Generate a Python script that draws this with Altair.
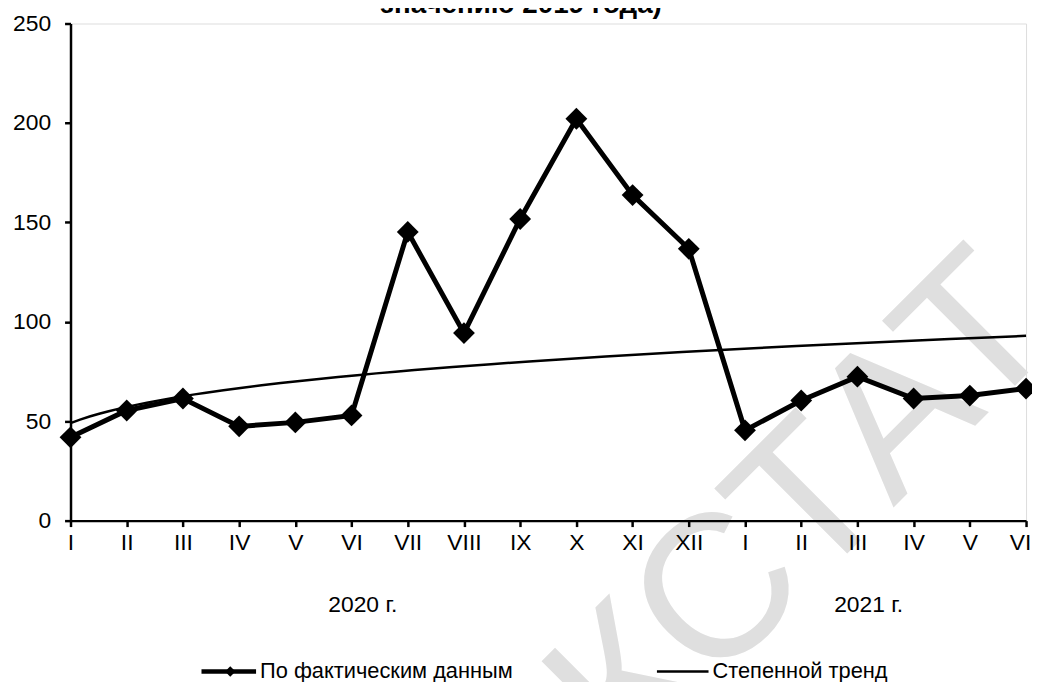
import json
import altair as alt
import pandas as pd

# ---- data ----
month_labels = ["I", "II", "III", "IV", "V", "VI", "VII", "VIII", "IX", "X", "XI", "XII",
                "I", "II", "III", "IV", "V", "VI"]
month_index = list(range(1, 19))
fact_values = [41.9, 55.4, 61.4, 47.4, 49.4, 52.9, 145.2, 94.3, 151.7, 202.1, 163.7, 136.7,
               45.4, 60.4, 72.4, 61.4, 62.9, 66.4]
year_labels = ["2020 г.", "2021 г."]
year_first = [1, 13]
year_last = [12, 18]
series_names = ["По фактическим данным", "Степенной тренд"]
title_line = "значению 2019 года)"
watermark = "КСТАТ"

FONT = "Liberation Sans"
FS = 23

df = pd.DataFrame({"x": month_index, "y": fact_values, "series": series_names[0]})
years = pd.DataFrame({"label": year_labels, "a": year_first, "b": year_last})
legend_df = pd.DataFrame({"name": series_names})

label_expr = json.dumps(month_labels, ensure_ascii=False) + "[datum.value - 1]"

x_enc = alt.X("x:Q", scale=alt.Scale(domain=[1, 18], nice=False, zero=False),
              axis=alt.Axis(values=month_index, labelExpr=label_expr, title=None,
                            grid=False, domainColor="black", domainWidth=2.5,
                            tickColor="black", tickWidth=2.5, tickSize=6,
                            labelFont=FONT, labelFontSize=FS, labelColor="black",
                            labelPadding=5, labelFlush=False, zindex=1,
                            labelOffset={"condition": {"test": "datum.value == 18", "value": -6},
                                         "value": 0}))
y_enc = alt.Y("y:Q", scale=alt.Scale(domain=[0, 250], nice=False),
              axis=alt.Axis(values=[0, 50, 100, 150, 200, 250], title=None, grid=False,
                            domainColor="black", domainWidth=2.5,
                            tickColor="black", tickWidth=2.5, tickSize=6,
                            labelFont=FONT, labelFontSize=FS, labelColor="black",
                            labelPadding=14, zindex=1))

base = alt.Chart(df)

fact_line = base.mark_line(color="black", strokeWidth=5).encode(x=x_enc, y=y_enc)
fact_pts = base.mark_point(shape="diamond", filled=True, color="black", size=484,
                           opacity=1).encode(x="x:Q", y="y:Q")

trend = base.transform_regression("x", "y", method="pow", extent=[1, 18]).mark_line(
    color="black", strokeWidth=2.5).encode(x="x:Q", y="y:Q")

# ---- legend (drawn below the plot) ----
leg = alt.Chart(legend_df)
LY = 653
LFS = 22
leg_fact_line = leg.transform_filter(alt.datum.name == series_names[0]).mark_rule(
    color="black", strokeWidth=4.5).encode(x=alt.value(132), x2=alt.value(187), y=alt.value(LY))
leg_fact_pt = leg.transform_filter(alt.datum.name == series_names[0]).mark_point(
    shape="diamond", filled=True, color="black", size=110, opacity=1).encode(
    x=alt.value(161), y=alt.value(LY))
leg_fact_txt = leg.transform_filter(alt.datum.name == series_names[0]).mark_text(
    font=FONT, fontSize=LFS, color="black", align="left", baseline="middle").encode(
    x=alt.value(191), y=alt.value(LY), text="name:N")
leg_tr_line = leg.transform_filter(alt.datum.name == series_names[1]).mark_rule(
    color="black", strokeWidth=2.5).encode(x=alt.value(591), x2=alt.value(643), y=alt.value(LY))
leg_tr_txt = leg.transform_filter(alt.datum.name == series_names[1]).mark_text(
    font=FONT, fontSize=LFS, color="black", align="left", baseline="middle").encode(
    x=alt.value(647), y=alt.value(LY), text="name:N")

year_text = alt.Chart(years).transform_calculate(
    mid="(datum.a + datum.b) / 2").mark_text(
    font=FONT, fontSize=FS, color="black", baseline="middle", align="center", dx=-17).encode(
    x="mid:Q", y=alt.value(586), text="label:N")

title_text = alt.Chart(pd.DataFrame({"t": [title_line]})).mark_text(
    font=FONT, fontSize=28, fontWeight="bold", color="black", align="center",
    baseline="alphabetic").encode(x=alt.value(454), y=alt.value(-11), text="t:N")

wm = alt.Chart(pd.DataFrame({"t": [watermark]})).mark_text(
    font=FONT, fontSize=205, color="#dfdfdf", align="right", baseline="alphabetic",
    angle=315).encode(x=alt.value(1003), y=alt.value(314), text="t:N")

chart = alt.layer(wm, trend, fact_line, fact_pts,
                  leg_fact_line, leg_fact_pt, leg_fact_txt, leg_tr_line, leg_tr_txt,
                  year_text, title_text).properties(
    width=963, height=501,
    autosize=alt.AutoSizeParams(type="none"),
    padding={"left": 63, "top": 13, "right": 6, "bottom": 160},
).configure_view(stroke=None).configure(background="white")

chart.save("out.html", embed_options={"renderer": "svg", "actions": False})
